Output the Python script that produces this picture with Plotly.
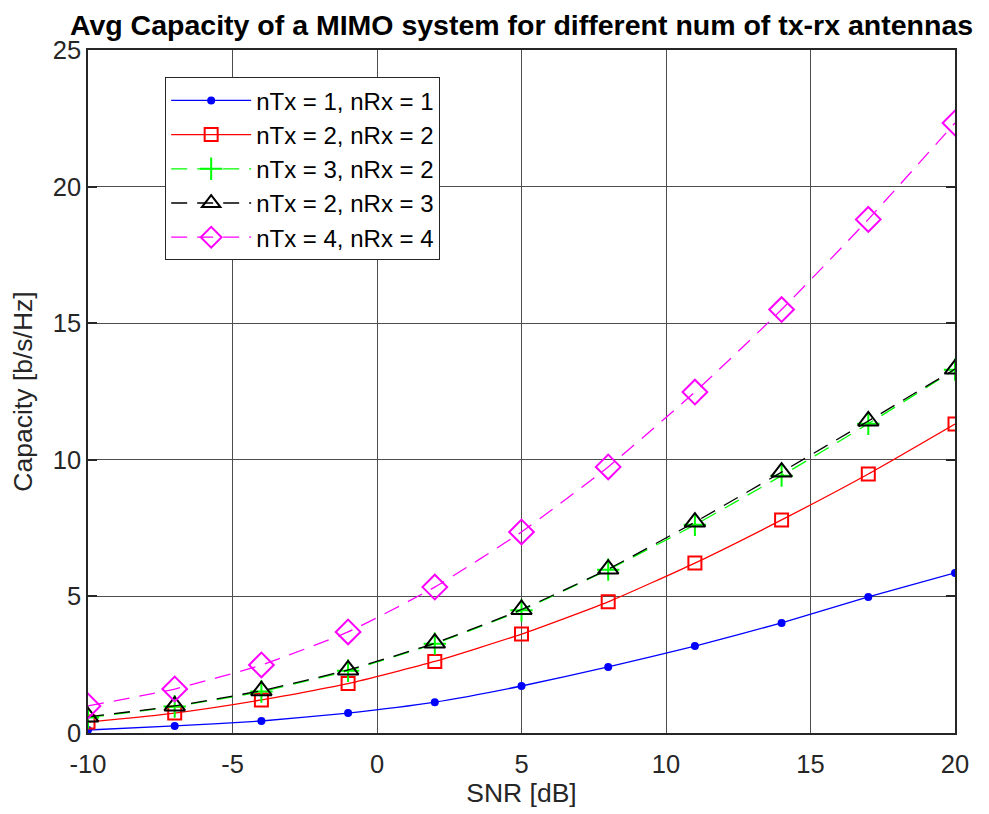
import plotly.graph_objects as go

# SNR points (dB)
snr = [-10, -7, -4, -1, 2, 5, 8, 11, 14, 17, 20]

# average capacity [b/s/Hz]
cap_1x1 = [0.11, 0.26, 0.44, 0.73, 1.13, 1.72, 2.42, 3.18, 4.03, 4.98, 5.86]
cap_2x2 = [0.40, 0.73, 1.21, 1.81, 2.62, 3.62, 4.80, 6.22, 7.80, 9.48, 11.31]
cap_3x2 = [0.57, 0.97, 1.52, 2.28, 3.27, 4.49, 5.98, 7.62, 9.42, 11.32, 13.30]
cap_2x3 = [0.59, 0.99, 1.55, 2.31, 3.29, 4.52, 6.00, 7.72, 9.55, 11.42, 13.32]
cap_4x4 = [0.99, 1.61, 2.49, 3.70, 5.34, 7.36, 9.74, 12.48, 15.50, 18.80, 22.33]

names = ['nTx = 1, nRx = 1', 'nTx = 2, nRx = 2', 'nTx = 3, nRx = 2',
         'nTx = 2, nRx = 3', 'nTx = 4, nRx = 4']

# tick labels (plain hyphen like MATLAB)
x_ticks = [-10, -5, 0, 5, 10, 15, 20]
x_tick_text = ['-10', '-5', '0', '5', '10', '15', '20']
y_ticks = [0, 5, 10, 15, 20, 25]

DASH = '16px,10px'
FONT = 'Arial, Liberation Sans'

fig = go.Figure()

# series styles: (data, colour, dash, marker symbol, marker size)
styles = [
    (cap_1x1, '#0000FF', 'solid', 'circle', 6),
    (cap_2x2, '#FF0000', 'solid', 'square-open', 13),
    (cap_3x2, '#00FF00', DASH, 'cross-thin-open', 16),
    (cap_2x3, '#000000', DASH, 'triangle-up-open', 18),
    (cap_4x4, '#FF00FF', DASH, 'diamond-open', 19),
]

for name, (vals, color, dash, sym, size) in zip(names, styles):
    fig.add_trace(go.Scatter(
        x=snr, y=vals, name=name,
        mode='lines+markers',
        line=dict(color=color, width=1.3, dash=dash, shape='spline', smoothing=0.5),
        marker=dict(symbol=sym, size=size, color=color,
                    line=dict(color=color, width=2)),
    ))

axis_common = dict(
    showline=True, linecolor='#262626', linewidth=1.5,
    showgrid=True, gridcolor='#4d4d4d', gridwidth=1, zeroline=False,
    tickfont=dict(family=FONT, size=25.5, color='#262626'),
)

# x ticks sit on the grid lines anyway; invisible outside ticks push the labels down
fig.update_xaxes(range=[-10, 20], tickvals=x_ticks, ticktext=x_tick_text,
                 ticks='outside', ticklen=8, tickcolor='rgba(0,0,0,0)', mirror=True,
                 title=dict(text='SNR [dB]', standoff=4,
                            font=dict(family=FONT, size=26.5, color='#262626')),
                 **axis_common)
fig.update_yaxes(range=[0, 25], tickvals=y_ticks,
                 ticks='inside', ticklen=9, tickcolor='#262626', tickwidth=1.5,
                 mirror='ticks',
                 title=dict(text='Capacity [b/s/Hz]', standoff=14,
                            font=dict(family=FONT, size=26.5, color='#262626')),
                 **axis_common)

# page body has an 8px margin, so the figure is shrunk and shifted to match
fig.update_layout(
    width=981, height=806,
    margin=dict(l=80, r=34, t=42, b=81, autoexpand=False),
    paper_bgcolor='white', plot_bgcolor='white',
    title=dict(text='<b>Avg Capacity of a MIMO system for different num of tx-rx antennas</b>',
               x=0.5, xref='paper', xanchor='center',
               y=1 - 17 / 806, yref='container', yanchor='middle',
               font=dict(family=FONT, size=28.5, color='black')),
    legend=dict(x=0.089, y=0.960, xanchor='left', yanchor='top',
                bgcolor='white', bordercolor='#262626', borderwidth=1,
                itemwidth=80, tracegroupgap=0,
                font=dict(family=FONT, size=24, color='black')),
    showlegend=True,
)

fig.write_html('out.html')
